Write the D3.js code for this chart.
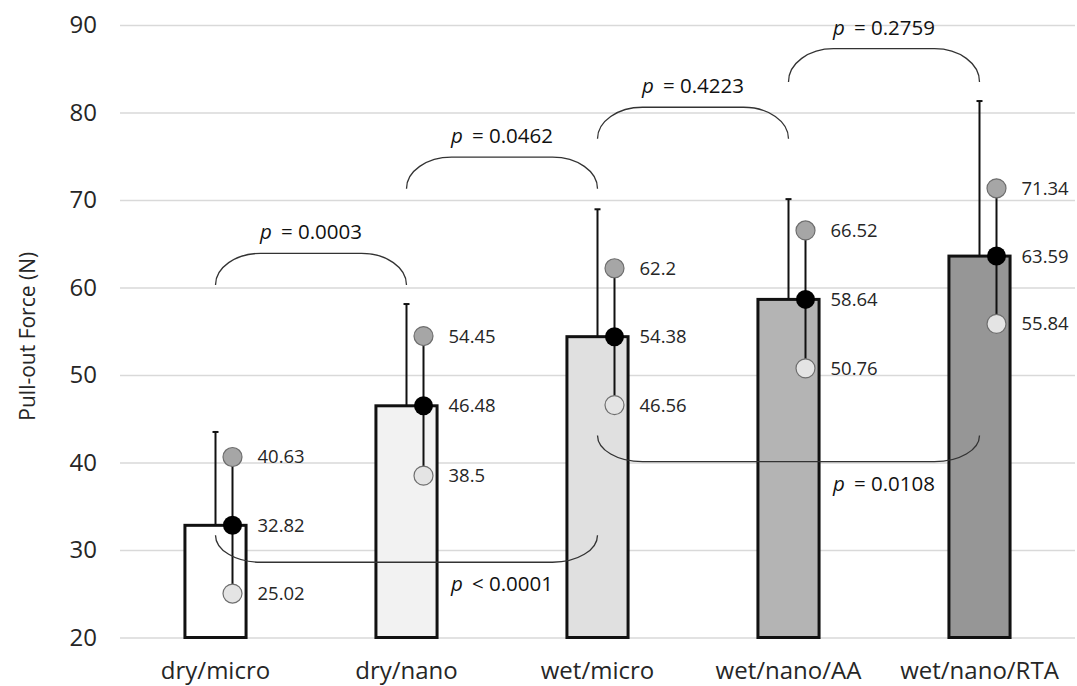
<!DOCTYPE html>
<html>
<head>
<meta charset="utf-8">
<script src="https://cdn.jsdelivr.net/npm/d3@7"></script>
<style>
  body { margin: 0; background: #fff; }
  svg { display: block; font-family: "Open Sans", "Noto Sans", sans-serif; }
</style>
</head>
<body>
<svg id="chart"></svg>
<script>
// data
const categories = ["dry/micro", "dry/nano", "wet/micro", "wet/nano/AA", "wet/nano/RTA"];
const means = [32.82, 46.48, 54.38, 58.64, 63.59];
const upperPts = [40.63, 54.45, 62.2, 66.52, 71.34];
const lowerPts = [25.02, 38.5, 46.56, 50.76, 55.84];
const sd = [10.67, 11.63, 14.56, 11.46, 17.72];
const yTicks = [20, 30, 40, 50, 60, 70, 80, 90];

// p-value brackets: between two groups, ends/peak in N, label placed between labelAt groups
const comparisons = [
  { from: 0, to: 1, end: 60.3, peak: 63.9, op: "=", p: "0.0003", labelAt: [0, 1] },
  { from: 1, to: 2, end: 71.3, peak: 74.9, op: "=", p: "0.0462", labelAt: [1, 2] },
  { from: 2, to: 3, end: 77.0, peak: 80.6, op: "=", p: "0.4223", labelAt: [2, 3] },
  { from: 3, to: 4, end: 83.5, peak: 87.3, op: "=", p: "0.2759", labelAt: [3, 4] },
  { from: 0, to: 2, end: 31.7, peak: 28.6, op: "<", p: "0.0001", labelAt: [1, 2] },
  { from: 2, to: 4, end: 43.1, peak: 40.1, op: "=", p: "0.0108", labelAt: [3, 4] }
];

const barFills = ["#ffffff", "#f2f2f2", "#e0e0e0", "#b4b4b4", "#969696"];

const width = 1077, height = 686;
const margin = { top: 25, right: 2, bottom: 48.5, left: 120 };

const svg = d3.select("#chart")
  .attr("width", width)
  .attr("height", height);

const x = d3.scaleBand()
  .domain(categories)
  .range([margin.left, width - margin.right])
  .padding(0);

const y = d3.scaleLinear()
  .domain([20, 90])
  .range([height - margin.bottom, margin.top]);

const cx = i => x(categories[i]) + x.bandwidth() / 2;
const barW = x.bandwidth() * 0.32;

// gridlines + tick labels
const yAxis = svg.append("g")
  .attr("transform", `translate(${margin.left},0)`)
  .call(d3.axisLeft(y).tickValues(yTicks).tickSize(-(width - margin.right - margin.left)).tickPadding(23));
yAxis.select(".domain").remove();
yAxis.selectAll(".tick line").attr("stroke", "#d9d9d9").attr("stroke-width", 1.5);
yAxis.selectAll(".tick text")
  .attr("font-size", 24)
  .attr("fill", "#262626")
  .attr("font-family", "'Open Sans', sans-serif");

// y title
svg.append("text")
  .attr("transform", `translate(35,${(margin.top + height - margin.bottom) / 2 + 5}) rotate(-90)`)
  .attr("text-anchor", "middle")
  .attr("font-size", 21)
  .attr("fill", "#262626")
  .text("Pull-out Force (N)");

// category labels
svg.append("g").selectAll("text")
  .data(categories)
  .join("text")
  .attr("x", d => x(d) + x.bandwidth() / 2)
  .attr("y", 679)
  .attr("text-anchor", "middle")
  .attr("font-size", 24)
  .attr("fill", "#262626")
  .text(d => d);

// bars
svg.append("g").selectAll("rect")
  .data(means)
  .join("rect")
  .attr("x", (d, i) => cx(i) - barW / 2)
  .attr("y", d => y(d))
  .attr("width", barW)
  .attr("height", d => y(20) - y(d))
  .attr("fill", (d, i) => barFills[i])
  .attr("stroke", "#111")
  .attr("stroke-width", 3);

// SD error bars (upper only)
const err = svg.append("g").attr("stroke", "#111");
means.forEach((m, i) => {
  err.append("line")
    .attr("x1", cx(i)).attr("x2", cx(i))
    .attr("y1", y(m)).attr("y2", y(m + sd[i]))
    .attr("stroke-width", 2);
  err.append("line")
    .attr("x1", cx(i) - 3).attr("x2", cx(i) + 3)
    .attr("y1", y(m + sd[i])).attr("y2", y(m + sd[i]))
    .attr("stroke-width", 2);
});

// points: upper, mean, lower, joined by a line
const ptOff = 17;
const pts = svg.append("g");
means.forEach((m, i) => {
  const px = cx(i) + ptOff;
  pts.append("line")
    .attr("x1", px).attr("x2", px)
    .attr("y1", y(upperPts[i])).attr("y2", y(lowerPts[i]))
    .attr("stroke", "#111").attr("stroke-width", 2);
  pts.append("circle").attr("cx", px).attr("cy", y(upperPts[i])).attr("r", 9.5)
    .attr("fill", "#a6a6a6").attr("stroke", "#6e6e6e").attr("stroke-width", 1.2);
  pts.append("circle").attr("cx", px).attr("cy", y(lowerPts[i])).attr("r", 9.5)
    .attr("fill", "#e4e4e4").attr("stroke", "#6e6e6e").attr("stroke-width", 1.2);
  pts.append("circle").attr("cx", px).attr("cy", y(m)).attr("r", 9.5)
    .attr("fill", "#000");

  [upperPts[i], m, lowerPts[i]].forEach(v => {
    pts.append("text")
      .attr("x", cx(i) + 42)
      .attr("y", y(v))
      .attr("dy", "0.35em")
      .attr("font-size", 18.5)
      .attr("fill", "#262626")
      .text(v);
  });
});

// brackets
const rx = 45;
function bracketPath(c) {
  const x1 = cx(c.from), x2 = cx(c.to);
  const ye = y(c.end), yp = y(c.peak);
  const ry = Math.abs(ye - yp);
  const sweep = yp < ye ? 1 : 0;
  return `M${x1},${ye} A${rx},${ry} 0 0 ${sweep} ${x1 + rx},${yp} L${x2 - rx},${yp} A${rx},${ry} 0 0 ${sweep} ${x2},${ye}`;
}

const br = svg.append("g");
br.selectAll("path")
  .data(comparisons)
  .join("path")
  .attr("d", bracketPath)
  .attr("fill", "none")
  .attr("stroke", "#333")
  .attr("stroke-width", 1.3);

const lbl = br.selectAll("text")
  .data(comparisons)
  .join("text")
  .attr("x", c => (cx(c.labelAt[0]) + cx(c.labelAt[1])) / 2)
  .attr("y", c => c.peak > c.end ? y(c.peak) - 14 : y(c.peak) + 29)
  .attr("text-anchor", "middle")
  .attr("font-size", 20.5)
  .attr("fill", "#111");
lbl.append("tspan").attr("font-style", "italic").text("p");
lbl.append("tspan").attr("dx", 9).text(c => `${c.op} ${c.p}`);
</script>
</body>
</html>
